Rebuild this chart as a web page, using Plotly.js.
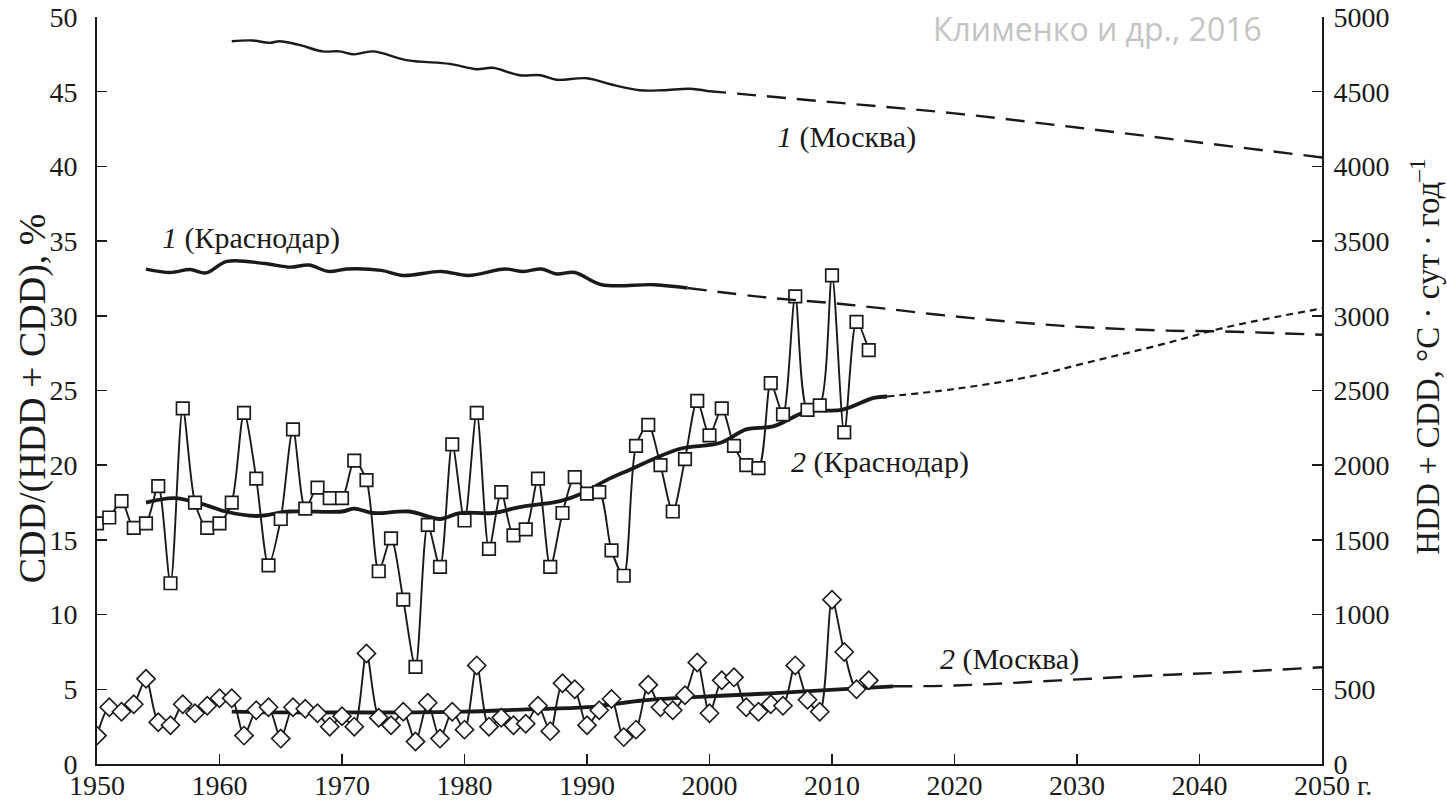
<!DOCTYPE html>
<html>
<head>
<meta charset="utf-8">
<script src="https://cdn.plot.ly/plotly-3.0.1.min.js"></script>
<style>
html,body{margin:0;padding:0;background:#fff;}
#chart{width:1447px;height:805px;}
#chart .xtick text, #chart .ytick text, #chart .y2tick text {font-family:"Liberation Serif", serif !important;}
</style>
</head>
<body>
<div id="chart"></div>
<script>
// ---------- DATA ----------
const years = [1950,1951,1952,1953,1954,1955,1956,1957,1958,1959,
  1960,1961,1962,1963,1964,1965,1966,1967,1968,1969,
  1970,1971,1972,1973,1974,1975,1976,1977,1978,1979,
  1980,1981,1982,1983,1984,1985,1986,1987,1988,1989,
  1990,1991,1992,1993,1994,1995,1996,1997,1998,1999,
  2000,2001,2002,2003,2004,2005,2006,2007,2008,2009,
  2010,2011,2012,2013];

// CDD/(HDD+CDD), % — Krasnodar (squares)
const krasShare = [16.1,16.5,17.6,15.8,16.1,18.6,12.1,23.8,17.5,15.8,
  16.1,17.5,23.5,19.1,13.3,16.4,22.4,17.1,18.5,17.8,
  17.8,20.3,19.0,12.9,15.1,11.0,6.5,16.0,13.2,21.4,
  16.3,23.5,14.4,18.2,15.3,15.7,19.1,13.2,16.8,19.2,
  18.1,18.2,14.3,12.6,21.3,22.7,20.0,16.9,20.4,24.3,
  22.0,23.8,21.3,20.0,19.8,25.5,23.4,31.3,23.7,24.0,
  32.7,22.2,29.6,27.7];

// CDD/(HDD+CDD), % — Moscow (diamonds)
const moscShare = [1.9,3.8,3.5,4.0,5.7,2.8,2.6,4.0,3.4,3.9,
  4.4,4.4,1.9,3.6,3.8,1.7,3.8,3.7,3.4,2.5,
  3.2,2.5,7.4,3.1,2.6,3.5,1.5,4.1,1.7,3.5,
  2.3,6.6,2.5,3.1,2.6,2.7,3.9,2.2,5.4,5.0,
  2.6,3.6,4.35,1.8,2.3,5.3,3.8,3.6,4.6,6.8,
  3.4,5.6,5.8,3.8,3.5,4.0,3.9,6.6,4.3,3.5,
  11.0,7.5,5.0,5.6];

// Curve 2 (Krasnodar), smoothed share, %
const kras2Years = [1954,1956.3,1958.6,1960.5,1963,1965.7,1970,1971,1972.5,1975.5,1978,1979.6,1982.3,1984.5,1987.8,1989.6,1991.6,1993.5,1995.4,1997.6,2000.9,2003,2005.2,2008,2010.8,2013.4,2014.5];
const kras2Vals  = [17.5,17.8,17.4,16.9,16.6,16.9,16.9,17.1,16.8,16.9,16.4,16.8,16.8,17.2,17.6,18.1,19.0,19.7,20.4,21.1,21.5,22.4,22.6,23.6,23.7,24.5,24.6];
const kras2ProjYears = [2014.5,2020,2026,2031,2037,2042,2050];
const kras2ProjVals  = [24.6,25.1,25.9,26.9,28.1,29.2,30.5];

// Curve 2 (Moscow), smoothed share, %
const mosc2Years = [1961,1965,1970,1975,1980,1985,1990,1994.5,1998,2000.5,2005,2010.6,2015];
const mosc2Vals  = [3.5,3.45,3.45,3.45,3.5,3.65,3.8,4.25,4.45,4.55,4.73,5.0,5.2];
const mosc2ProjYears = [2015,2020,2028.6,2036.8,2042,2050];
const mosc2ProjVals  = [5.2,5.25,5.6,5.95,6.12,6.48];

// Curve 1 (Moscow), HDD + CDD, °C·day/yr (right axis)
const mosc1Years = [1961,1962.7,1964.1,1964.9,1966.5,1968.4,1969.8,1971,1972.5,1975.4,1978.8,1981,1982.3,1984.5,1986.2,1987.5,1990,1991.9,1994.3,1996.2,1998.4,1999.8];
const mosc1Vals  = [4838,4843,4827,4838,4813,4770,4770,4750,4770,4710,4686,4650,4660,4610,4610,4580,4590,4550,4510,4510,4520,4505];
const mosc1ProjYears = [1999.8,2010,2020,2030,2040,2050];
const mosc1ProjVals  = [4505,4430,4355,4260,4160,4060];

// Curve 1 (Krasnodar), HDD + CDD (right axis)
const kras1Years = [1954,1956,1957.6,1958.9,1960.6,1963.7,1965.8,1967.3,1968.9,1970.4,1973.2,1975,1978.1,1980.3,1983.3,1984.8,1986.3,1987.5,1989,1991.2,1995.5,1998.2];
const kras1Vals  = [3313,3290,3310,3287,3364,3350,3326,3340,3297,3313,3304,3270,3297,3270,3313,3297,3313,3280,3290,3208,3208,3186];
const kras1ProjYears = [1998.2,2005,2010,2013,2020,2028.6,2036.8,2042,2050];
const kras1ProjVals  = [3186,3120,3085,3060,2996,2934,2902,2895,2873];

// Axis ticks
const xTickVals = [1950,1960,1970,1980,1990,2000,2010,2020,2030,2040,2050];
const xTickText = ["1950","1960","1970","1980","1990","2000","2010","2020","2030","2040","2050"];
const yTickVals = [0,5,10,15,20,25,30,35,40,45,50];
const y2TickVals = [0,500,1000,1500,2000,2500,3000,3500,4000,4500,5000];

// Labels
const labels = [
  {t:"<i>1</i> (Москва)", x:2011.2, y:42.0},
  {t:"<i>1</i> (Краснодар)", x:1962.6, y:35.2},
  {t:"<i>2</i> (Краснодар)", x:2013.9, y:20.2},
  {t:"<i>2</i> (Москва)", x:2024.5, y:7.0}
];
const leftTitle = 'CDD/(HDD + CDD), %';
const rightTitle = 'HDD + CDD, °C · сут · год<sup>–1</sup>';
const sourceNote = 'Клименко и др., 2016';
const lastTickSuffix = 'г.';

// ---------- CHART ----------
const K = '#1a1a1a';
const serif = 'Liberation Serif';

const traces = [
  {x:mosc1Years, y:mosc1Vals, yaxis:'y2', mode:'lines', line:{color:K,width:2.4,shape:'spline'}},
  {x:mosc1ProjYears, y:mosc1ProjVals, yaxis:'y2', mode:'lines', line:{color:K,width:2.4,shape:'spline',dash:'19px,11px'}},
  {x:kras1Years, y:kras1Vals, yaxis:'y2', mode:'lines', line:{color:K,width:3.4,shape:'spline'}},
  {x:kras1ProjYears, y:kras1ProjVals, yaxis:'y2', mode:'lines', line:{color:K,width:2.4,shape:'spline',dash:'19px,11px'}},
  {x:kras2Years, y:kras2Vals, mode:'lines', line:{color:K,width:3.8,shape:'spline'}},
  {x:kras2ProjYears, y:kras2ProjVals, mode:'lines', line:{color:K,width:2.2,shape:'spline',dash:'7px,5px'}},
  {x:mosc2Years, y:mosc2Vals, mode:'lines', line:{color:K,width:3.8,shape:'spline'}},
  {x:mosc2ProjYears, y:mosc2ProjVals, mode:'lines', line:{color:K,width:2.4,shape:'spline',dash:'19px,11px'}},
  {x:years, y:krasShare, mode:'lines+markers', line:{color:K,width:1.9,shape:'spline',smoothing:0.8},
   marker:{symbol:'square',size:12.5,color:'#fff',line:{color:K,width:1.7}}},
  {x:years, y:moscShare, mode:'lines+markers', line:{color:K,width:1.9,shape:'spline',smoothing:0.8},
   marker:{symbol:'diamond',size:14,color:'#fff',line:{color:K,width:1.6}}}
];

const annotations = labels.map(l => ({
  x:l.x, y:l.y, xref:'x', yref:'y', text:l.t, showarrow:false,
  font:{family:serif,size:30,color:K}
}));
annotations.push({x:2050, y:0, xref:'x', yref:'y', text:lastTickSuffix, showarrow:false,
  xanchor:'left', yanchor:'middle', xshift:33, yshift:-21, font:{family:serif,size:28,color:K}});
annotations.push({x:0.953, y:1.0, xref:'paper', yref:'paper', text:sourceNote,
  showarrow:false, xanchor:'right', yanchor:'middle', yshift:-11,
  font:{family:'Open Sans',size:32,color:'#c4c4c4'}});
annotations.push({x:-0.052, y:0.49, xref:'paper', yref:'paper', text:leftTitle, textangle:-90,
  showarrow:false, xanchor:'center', yanchor:'middle', font:{family:serif,size:38,color:K}});
annotations.push({x:1.084, y:0.545, xref:'paper', yref:'paper', text:rightTitle, textangle:-90,
  showarrow:false, xanchor:'center', yanchor:'middle', font:{family:serif,size:33,color:K}});

const layout = {
  width:1447, height:805,
  margin:{l:97, r:125, t:17, b:41},
  paper_bgcolor:'#fff', plot_bgcolor:'#fff',
  showlegend:false,
  font:{family:serif, size:28, color:K},
  xaxis:{range:[1950,2050], tickvals:xTickVals, ticktext:xTickText,
    showgrid:false, zeroline:false, showline:true, linecolor:K, linewidth:2,
    ticks:'inside', ticklen:10, tickwidth:1.5, tickcolor:K,
    tickfont:{family:serif,size:28,color:K}, ticklabelstandoff:-5},
  yaxis:{range:[0,50], tickvals:yTickVals, showgrid:false, zeroline:false,
    showline:true, linecolor:K, linewidth:2, ticks:'inside', ticklen:10, tickwidth:1.5, tickcolor:K,
    tickfont:{family:serif,size:28,color:K}, ticklabelstandoff:12},
  yaxis2:{range:[0,5000], tickvals:y2TickVals, overlaying:'y', side:'right',
    showgrid:false, zeroline:false, showline:true, linecolor:K, linewidth:2,
    ticks:'inside', ticklen:10, tickwidth:1.5, tickcolor:K,
    tickfont:{family:serif,size:28,color:K}, ticklabelstandoff:4},
  annotations:annotations
};

Plotly.newPlot('chart', traces, layout, {displayModeBar:false, staticPlot:true});
</script>
</body>
</html>
